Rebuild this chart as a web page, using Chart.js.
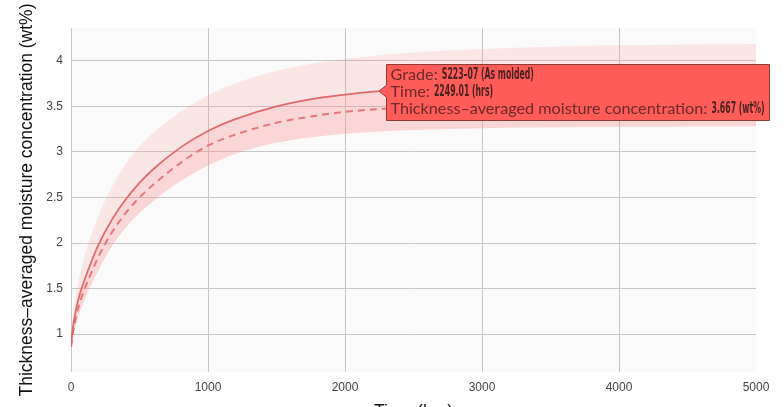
<!DOCTYPE html>
<html><head><meta charset="utf-8">
<script src="https://cdn.jsdelivr.net/npm/chart.js@4"></script>
<style>
html,body{margin:0;padding:0;background:#fff;overflow:hidden;width:784px;height:407px}
#wrap{width:784px;height:425px;position:relative}
</style></head>
<body><div id="wrap"><canvas id="c" width="784" height="425"></canvas></div>
<script>
// ---- data ----
const TIMES      = [0, 10, 25, 50, 100, 150, 200, 300, 400, 500, 600, 800, 1000, 1200, 1500, 1800, 2000, 2249.01, 2500, 3000, 3500, 4000, 4500, 5000];
const AS_MOLDED  = [0.86, 1.02, 1.18, 1.36, 1.6, 1.8, 1.98, 2.26, 2.48, 2.66, 2.81, 3.05, 3.23, 3.36, 3.5, 3.59, 3.63, 3.667, 3.69, 3.72, 3.74, 3.752, 3.761, 3.768];
const DASHED     = [0.86, 0.98, 1.1, 1.27, 1.5, 1.68, 1.85, 2.12, 2.33, 2.5, 2.64, 2.88, 3.07, 3.19, 3.32, 3.4, 3.44, 3.47, 3.49, 3.52, 3.54, 3.552, 3.56, 3.566];
const BAND_UPPER = [0.86, 1.08, 1.3, 1.55, 1.86, 2.1, 2.3, 2.62, 2.87, 3.06, 3.21, 3.44, 3.62, 3.75, 3.89, 3.98, 4.02, 4.06, 4.09, 4.13, 4.155, 4.17, 4.18, 4.185];
const BAND_LOWER = [0.86, 0.95, 1.05, 1.18, 1.38, 1.55, 1.7, 1.97, 2.17, 2.33, 2.46, 2.68, 2.85, 2.98, 3.1, 3.17, 3.2, 3.225, 3.24, 3.26, 3.27, 3.275, 3.28, 3.283];
const X_TICKS = [0, 1000, 2000, 3000, 4000, 5000];
const Y_TICKS = [1, 1.5, 2, 2.5, 3, 3.5, 4];
const X_RANGE = [0, 5000];
const Y_RANGE = [0.585, 4.36];
const TIP_GRADE = 'S223\u201307 (As molded)';
const TIP_TIME = 2249.01;
const TIP_VALUE = 3.667;

const pts = arr => TIMES.map((t, i) => ({x: t, y: arr[i]}));
const BAND = 'rgba(255,150,150,0.2)';
const LINE = '#d95e5e';

const bgPlugin = {
  id: 'plotBg',
  beforeDraw(chart) {
    const {ctx, chartArea: a} = chart;
    ctx.save(); ctx.fillStyle = '#fafafa';
    ctx.fillRect(a.left, a.top, a.right - a.left, a.bottom - a.top);
    ctx.restore();
  }
};

const tipPlugin = {
  id: 'fixedTip',
  afterDraw(chart) {
    const ctx = chart.ctx;
    const px = chart.scales.x.getPixelForValue(TIP_TIME);
    const py = chart.scales.y.getPixelForValue(TIP_VALUE);
    const lines = [
      ['Grade: ', TIP_GRADE],
      ['Time: ', TIP_TIME.toFixed(2) + ' (hrs)'],
      ['Thickness\u2013averaged moisture concentration: ', TIP_VALUE.toFixed(3) + ' (wt%)']
    ];
    const labFont = '15px Lato, "Liberation Sans", sans-serif';
    const valFont = 'bold 15px "Liberation Sans Narrow", "DejaVu Sans Condensed", sans-serif';
    ctx.save();
    ctx.font = labFont;
    const labScale = 321 / ctx.measureText(lines[2][0]).width;
    ctx.font = valFont;
    const valScale = 92 / ctx.measureText(lines[0][1]).width;
    let maxW = 0;
    const widths = lines.map(l => {
      ctx.font = labFont; const a = ctx.measureText(l[0]).width * labScale;
      ctx.font = valFont; const b = ctx.measureText(l[1]).width * valScale;
      maxW = Math.max(maxW, a + b);
      return a;
    });
    const caret = 7, padL = 4, padR = 5;
    const left = Math.round(px + caret) + 0.5, top = Math.round(py - 27) + 0.5;
    const w = Math.round(maxW + padL + padR), h = 56;
    ctx.beginPath();
    ctx.moveTo(left, top);
    ctx.lineTo(left + w, top);
    ctx.lineTo(left + w, top + h);
    ctx.lineTo(left, top + h);
    ctx.lineTo(left, py + 6);
    ctx.lineTo(px, py);
    ctx.lineTo(left, py - 6);
    ctx.closePath();
    ctx.fillStyle = '#ff5c5a';
    ctx.fill();
    ctx.strokeStyle = '#8c3a36';
    ctx.lineWidth = 1;
    ctx.stroke();
    ctx.textBaseline = 'middle';
    lines.forEach((l, i) => {
      const ly = py - 16 + i * 17;
      const x0 = left + padL;
      ctx.save(); ctx.translate(x0, ly); ctx.scale(labScale, 1);
      ctx.font = labFont; ctx.fillStyle = '#6e2a2a'; ctx.fillText(l[0], 0, 0);
      ctx.restore();
      ctx.save(); ctx.translate(x0 + widths[i], ly); ctx.scale(valScale, 1);
      ctx.font = valFont; ctx.fillStyle = '#4a2222'; ctx.fillText(l[1], 0, 0);
      ctx.restore();
    });
    ctx.restore();
  }
};

const H = 425;
new Chart(document.getElementById('c'), {
  type: 'line',
  data: {
    datasets: [
      {label: 'lower', data: pts(BAND_LOWER), borderWidth: 0, borderColor: 'transparent', pointRadius: 0, fill: false, cubicInterpolationMode: 'monotone'},
      {label: 'upper', data: pts(BAND_UPPER), borderWidth: 0, borderColor: 'transparent', pointRadius: 0, fill: 0, backgroundColor: BAND, cubicInterpolationMode: 'monotone'},
      {label: 'As molded', data: pts(AS_MOLDED), borderColor: LINE, borderWidth: 1.8, pointRadius: 0, fill: 0, backgroundColor: BAND, cubicInterpolationMode: 'monotone'},
      {label: 'dashed', data: pts(DASHED), borderColor: '#d66a6a', borderWidth: 2, borderDash: [7, 5], pointRadius: 0, fill: false, cubicInterpolationMode: 'monotone'}
    ]
  },
  options: {
    responsive: false, animation: false, devicePixelRatio: 1,
    layout: {padding: {left: 10, top: 28, right: 28, bottom: 0}},
    plugins: {legend: {display: false}, tooltip: {enabled: false}},
    events: [],
    scales: {
      x: {
        type: 'linear', min: X_RANGE[0], max: X_RANGE[1],
        afterBuildTicks: s => { s.ticks = X_TICKS.map(v => ({value: v})); },
        afterFit: s => { s.height = H - 372; },
        grid: {color: c => (c.tick && c.tick.value === X_RANGE[1]) ? 'rgba(0,0,0,0)' : '#c6c6c6', drawTicks: false, lineWidth: 1},
        border: {display: false},
        ticks: {font: {size: 12, family: '"Liberation Sans", Arial, sans-serif'}, color: '#444', padding: 8, maxRotation: 0, callback: v => String(v)},
        title: {display: true, text: 'Time (hrs)', font: {size: 17.5, family: '"Liberation Sans", Arial, sans-serif'}, color: '#111', padding: {top: 0, bottom: 2}}
      },
      y: {
        type: 'linear', min: Y_RANGE[0], max: Y_RANGE[1],
        afterBuildTicks: s => { s.ticks = Y_TICKS.map(v => ({value: v})); },
        afterFit: s => { s.width = 61; },
        grid: {color: '#c6c6c6', drawTicks: false, lineWidth: 1},
        border: {display: false},
        ticks: {font: {size: 12, family: '"Liberation Sans", Arial, sans-serif'}, color: '#444', padding: 8, callback: v => String(v)},
        title: {display: true, text: 'Thickness\u2013averaged moisture concentration (wt%)', font: {size: 17.5, family: '"Liberation Sans", Arial, sans-serif'}, color: '#111', padding: {top: 7, bottom: 0}}
      }
    }
  },
  plugins: [bgPlugin, tipPlugin]
});
</script>
</body></html>
